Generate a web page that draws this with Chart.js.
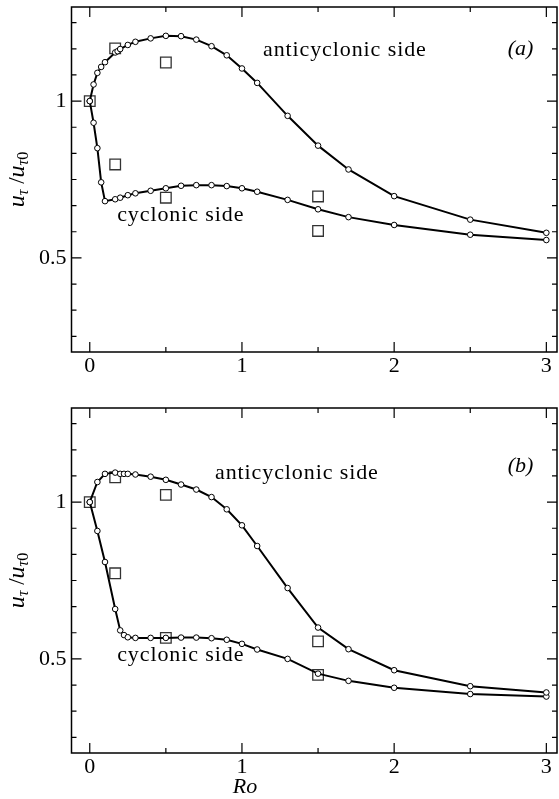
<!DOCTYPE html>
<html lang="en">
<head>
<meta charset="UTF-8">
<title>u_tau / u_tau0 versus Ro</title>
<script src="https://cdn.jsdelivr.net/npm/chart.js@4.4.0/dist/chart.umd.min.js"></script>
<style>
  body { margin: 0; background: #fff; }
  #wrap { position: relative; width: 559px; height: 799px; }
  canvas { position: absolute; left: 0; display: block; }
  #panelA { top: 0; }
  #panelB { top: 400px; }
</style>
</head>
<body>
<div id="wrap">
  <canvas id="panelA" width="559" height="400"></canvas>
  <canvas id="panelB" width="559" height="399"></canvas>
</div>
<script>
// ---------- data, panel (a) ----------
const roAntiA = [0, 0.025, 0.05, 0.075, 0.1, 0.167, 0.183, 0.2, 0.25, 0.3, 0.4, 0.5, 0.6, 0.7, 0.8, 0.9, 1.0, 1.1, 1.3, 1.5, 1.7, 2.0, 2.5, 3.0];
const utAntiA = [1.0, 1.053, 1.09, 1.109, 1.124, 1.155, 1.159, 1.166, 1.179, 1.189, 1.20, 1.208, 1.207, 1.196, 1.175, 1.146, 1.104, 1.058, 0.953, 0.858, 0.782, 0.697, 0.622, 0.580];
const roCycA = [0, 0.025, 0.05, 0.075, 0.1, 0.167, 0.2, 0.25, 0.3, 0.4, 0.5, 0.6, 0.7, 0.8, 0.9, 1.0, 1.1, 1.3, 1.5, 1.7, 2.0, 2.5, 3.0];
const utCycA = [1.0, 0.931, 0.850, 0.741, 0.681, 0.687, 0.692, 0.700, 0.706, 0.714, 0.722, 0.730, 0.732, 0.732, 0.729, 0.722, 0.711, 0.685, 0.655, 0.630, 0.605, 0.574, 0.557];
const roSqA = [0, 0.167, 0.5, 0.167, 0.5, 1.5, 1.5];
const utSqA = [1.0, 1.168, 1.123, 0.798, 0.692, 0.696, 0.586];

// ---------- data, panel (b) ----------
const roAntiB = [0, 0.05, 0.1, 0.167, 0.2, 0.225, 0.25, 0.3, 0.4, 0.5, 0.6, 0.7, 0.8, 0.9, 1.0, 1.1, 1.3, 1.5, 1.7, 2.0, 2.5, 3.0];
const utAntiB = [1.0, 1.064, 1.090, 1.094, 1.090, 1.090, 1.090, 1.088, 1.081, 1.071, 1.056, 1.040, 1.016, 0.977, 0.926, 0.860, 0.726, 0.600, 0.531, 0.464, 0.413, 0.393];
const roCycB = [0, 0.05, 0.1, 0.167, 0.2, 0.225, 0.25, 0.3, 0.4, 0.5, 0.6, 0.7, 0.8, 0.9, 1.0, 1.1, 1.3, 1.5, 1.7, 2.0, 2.5, 3.0];
const utCycB = [1.0, 0.908, 0.809, 0.659, 0.591, 0.576, 0.569, 0.567, 0.567, 0.567, 0.568, 0.568, 0.566, 0.561, 0.548, 0.530, 0.500, 0.453, 0.430, 0.408, 0.388, 0.380];
const roSqB = [0, 0.167, 0.5, 0.167, 0.5, 1.5, 1.5];
const utSqB = [1.0, 1.079, 1.023, 0.773, 0.567, 0.556, 0.449];

// ---------- axes ----------
const xRange = [-0.12, 3.07];
const yRange = [0.2, 1.3];
const xLabelTicks = [0, 1, 2, 3];
const xMinorTicks = [0.5, 1.5, 2.5];
const yLabelTicks = [0.5, 1];
const yMinorTicks = [0.25, 1 / 3, 5 / 12, 7 / 12, 2 / 3, 0.75, 5 / 6, 11 / 12, 13 / 12, 7 / 6, 1.25];

const SERIF = '"Liberation Serif", "Times New Roman", serif';

function pts(xs, ys) {
  return xs.map((v, i) => ({ x: v, y: ys[i] }));
}

// u_tau / u_tau0, written sideways
function drawYTitle(ctx, bx, cy) {
  const parts = [
    { t: 'u', f: 'italic 24px ' + SERIF, dy: 0 },
    { t: 'τ', f: 'italic 16px ' + SERIF, dy: 4 },
    { t: ' /', f: '23px ' + SERIF, dy: 0 },
    { t: 'u', f: 'italic 24px ' + SERIF, dy: 0 },
    { t: 'τ', f: 'italic 16px ' + SERIF, dy: 4 },
    { t: '0', f: '16px ' + SERIF, dy: 4 }
  ];
  ctx.save();
  ctx.translate(bx, cy);
  ctx.rotate(-Math.PI / 2);
  ctx.fillStyle = '#000';
  ctx.textBaseline = 'alphabetic';
  let total = 0;
  parts.forEach(p => { ctx.font = p.f; p.w = ctx.measureText(p.t).width; total += p.w; });
  let xx = -total / 2;
  parts.forEach(p => { ctx.font = p.f; ctx.fillText(p.t, xx, p.dy); xx += p.w; });
  ctx.restore();
}

const panelDecor = {
  id: 'panelDecor',
  beforeDatasetsDraw(chart) {
    const { ctx, chartArea: a, scales: { x, y } } = chart;
    ctx.save();
    ctx.strokeStyle = '#000';
    ctx.lineWidth = 1.5;
    ctx.strokeRect(a.left, a.top, a.right - a.left, a.bottom - a.top);

    // inward ticks on all four sides
    ctx.lineWidth = 1.2;
    ctx.beginPath();
    const xMark = (v, len) => {
      const px = x.getPixelForValue(v);
      ctx.moveTo(px, a.bottom); ctx.lineTo(px, a.bottom - len);
      ctx.moveTo(px, a.top); ctx.lineTo(px, a.top + len);
    };
    const yMark = (v, len) => {
      const py = y.getPixelForValue(v);
      ctx.moveTo(a.left, py); ctx.lineTo(a.left + len, py);
      ctx.moveTo(a.right, py); ctx.lineTo(a.right - len, py);
    };
    xLabelTicks.forEach(v => xMark(v, 10));
    xMinorTicks.forEach(v => xMark(v, 5));
    yLabelTicks.forEach(v => yMark(v, 10));
    yMinorTicks.forEach(v => yMark(v, 5));
    ctx.stroke();
    ctx.restore();
  },
  afterDraw(chart, args, opts) {
    const { ctx, chartArea: a, scales: { x, y } } = chart;
    ctx.save();
    ctx.fillStyle = '#000';
    ctx.textBaseline = 'middle';
    ctx.textAlign = 'left';
    (opts.notes || []).forEach(n => {
      ctx.font = (n.italic ? 'italic ' : '') + '22px ' + SERIF;
      ctx.letterSpacing = n.italic ? '0px' : '0.9px';
      ctx.fillText(n.text, x.getPixelForValue(n.x), y.getPixelForValue(n.y));
    });
    ctx.letterSpacing = '0px';
    if (opts.xTitle) {
      ctx.textAlign = 'center';
      ctx.font = 'italic 22px ' + SERIF;
      ctx.fillText(opts.xTitle.text, opts.xTitle.px, opts.xTitle.py);
    }
    ctx.restore();
    drawYTitle(ctx, 24, (a.top + a.bottom) / 2);
  }
};

function makePanel(id, anti, cyc, squares, topPad, bottomH, decor) {
  const curve = data => ({
    data: data,
    showLine: true,
    tension: 0,
    borderColor: '#000',
    borderWidth: 2,
    pointRadius: 2.8,
    pointBackgroundColor: '#fff',
    pointBorderColor: '#000',
    pointBorderWidth: 1
  });
  return new Chart(document.getElementById(id), {
    type: 'scatter',
    data: {
      datasets: [
        curve(anti),
        curve(cyc),
        {
          data: squares,
          showLine: false,
          pointStyle: 'rect',
          pointRadius: 7.5,
          pointBackgroundColor: 'rgba(0,0,0,0)',
          pointBorderColor: '#333',
          pointBorderWidth: 1.3
        }
      ]
    },
    options: {
      responsive: false,
      animation: false,
      events: [],
      layout: { autoPadding: false, padding: { top: topPad, right: 2, left: 0, bottom: 0 } },
      plugins: { legend: { display: false }, tooltip: { enabled: false }, panelDecor: decor },
      scales: {
        x: {
          type: 'linear',
          min: xRange[0],
          max: xRange[1],
          afterBuildTicks: s => { s.ticks = xLabelTicks.map(v => ({ value: v })); },
          afterFit: s => { s.height = bottomH; s.paddingLeft = 0; s.paddingRight = 0; },
          grid: { display: false, drawTicks: false },
          border: { display: false },
          ticks: { color: '#000', padding: 1, maxRotation: 0, autoSkip: false,
                   font: { family: SERIF, size: 22 }, callback: v => String(v) }
        },
        y: {
          type: 'linear',
          min: yRange[0],
          max: yRange[1],
          afterBuildTicks: s => { s.ticks = yLabelTicks.map(v => ({ value: v })); },
          afterFit: s => { s.width = 71.5; s.paddingTop = 0; s.paddingBottom = 0; },
          grid: { display: false, drawTicks: false },
          border: { display: false },
          ticks: { color: '#000', padding: 5, autoSkip: false,
                   font: { family: SERIF, size: 22 }, callback: v => String(v) }
        }
      }
    },
    plugins: [panelDecor]
  });
}

makePanel('panelA', pts(roAntiA, utAntiA), pts(roCycA, utCycA), pts(roSqA, utSqA), 7, 48, {
  notes: [
    { text: 'anticyclonic side', x: 1.138, y: 1.163 },
    { text: '(a)', x: 2.746, y: 1.165, italic: true },
    { text: 'cyclonic side', x: 0.18, y: 0.637 }
  ]
});

makePanel('panelB', pts(roAntiB, utAntiB), pts(roCycB, utCycB), pts(roSqB, utSqB), 8, 46, {
  notes: [
    { text: 'anticyclonic side', x: 0.823, y: 1.092 },
    { text: '(b)', x: 2.746, y: 1.115, italic: true },
    { text: 'cyclonic side', x: 0.18, y: 0.513 }
  ],
  xTitle: { text: 'Ro', px: 245, py: 387 }
});
</script>
</body>
</html>
